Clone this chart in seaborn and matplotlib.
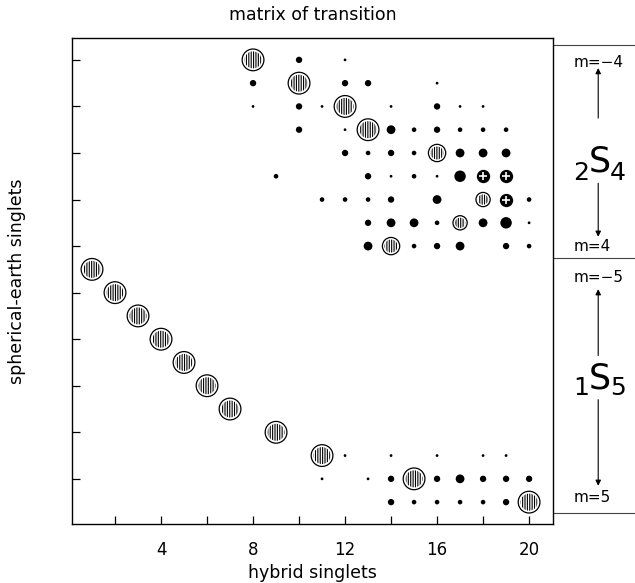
import numpy as np
import pandas as pd
import matplotlib
matplotlib.use("Agg")
import matplotlib.pyplot as plt
import seaborn as sns

# ---------------------------------------------------------------------------
# Data: hybrid singlet index (x) versus spherical-earth singlet row (y).
# Rows 1..11 are 1S5 (m = 5 at the bottom .. m = -5), rows 12..20 are 2S4
# (m = 4 .. m = -4 at the top).
# ---------------------------------------------------------------------------

# dominant correspondences (hatched circles); weight 3 = full, 2 = reduced, 1 = weak
dom_hybrid = [8, 10, 12, 13, 16, 18, 17, 14,
              1, 2, 3, 4, 5, 6, 7, 9, 11, 15, 20]
dom_spherical = [20, 19, 18, 17, 16, 14, 13, 12,
                 11, 10, 9, 8, 7, 6, 5, 4, 3, 2, 1]
dom_weight = [3, 3, 3, 3, 2, 1, 1, 2,
              3, 3, 3, 3, 3, 3, 3, 3, 3, 3, 3]

# strongly mixed cells (dark circles with a light cross)
mix_hybrid = [18, 19, 19]
mix_spherical = [15, 15, 14]

# secondary couplings, level 1 (faint) .. 5 (strong)
dot_hybrid = [
    10, 12,                              # row 20
    8, 12, 13, 16,                       # row 19
    8, 10, 11, 14, 16, 17, 18,           # row 18
    10, 12, 14, 15, 16, 17, 18, 19,      # row 17
    12, 13, 14, 15, 17, 18, 19,          # row 16
    9, 13, 14, 15, 16, 17,               # row 15
    11, 12, 13, 14, 16, 20,              # row 14
    13, 14, 15, 16, 18, 19, 20,          # row 13
    13, 15, 16, 17, 19, 20,              # row 12
    12, 14, 16, 18, 19,                  # row 3
    11, 13, 14, 16, 17, 18, 19, 20,      # row 2
    14, 15, 16, 17, 18, 19,              # row 1
]
dot_spherical = (
    [20] * 2 + [19] * 4 + [18] * 7 + [17] * 8 + [16] * 7 + [15] * 6
    + [14] * 6 + [13] * 7 + [12] * 6 + [3] * 5 + [2] * 8 + [1] * 6
)
dot_level = [
    3, 1,
    3, 3, 3, 1,
    1, 3, 1, 1, 3, 1, 1,
    3, 1, 4, 2, 3, 2, 2, 2,
    3, 2, 3, 2, 4, 4, 4,
    2, 3, 1, 2, 1, 5,
    2, 2, 2, 3, 4, 2,
    3, 4, 4, 2, 4, 5, 1,
    4, 2, 3, 4, 3, 2,
    1, 1, 1, 1, 1,
    1, 1, 3, 3, 4, 3, 3, 3,
    3, 2, 2, 2, 2, 3,
]

x_tick_values = [2, 4, 6, 8, 10, 12, 14, 16, 18, 20]
x_tick_text = ["", "4", "", "8", "", "12", "", "16", "", "20"]
y_tick_values = [2, 4, 6, 8, 10, 12, 14, 16, 18, 20]

# ---------------------------------------------------------------------------
sns.set_theme(style="white")
plt.rcParams["font.family"] = ["DejaVu Sans"]
plt.rcParams["text.color"] = "black"
plt.rcParams["axes.labelcolor"] = "black"
plt.rcParams["xtick.color"] = "black"
plt.rcParams["ytick.color"] = "black"
plt.rcParams["hatch.linewidth"] = 0.8
plt.rcParams["hatch.color"] = "black"

fig = plt.figure(figsize=(6.35, 5.83), dpi=100)
ax = fig.add_axes([72 / 635, 1 - 524 / 583, 481 / 635, 486 / 583])

dots = pd.DataFrame({"hybrid": dot_hybrid, "spherical": dot_spherical,
                     "level": dot_level})
dom = pd.DataFrame({"hybrid": dom_hybrid, "spherical": dom_spherical,
                    "weight": dom_weight})
mix = pd.DataFrame({"hybrid": mix_hybrid, "spherical": mix_spherical})

dot_sizes = {1: 4.0, 2: 11.0, 3: 21.0, 4: 40.0, 5: 68.0}
ring_sizes = {1: 105.0, 2: 155.0, 3: 245.0}
fill_sizes = {1: 55.0, 2: 88.0, 3: 150.0}

sns.scatterplot(data=dots, x="hybrid", y="spherical", size="level",
                sizes=dot_sizes, color="black", edgecolor="black",
                linewidth=0, legend=False, ax=ax, zorder=3)

sns.scatterplot(data=mix, x="hybrid", y="spherical", s=92, color="black",
                edgecolor="black", linewidth=0, legend=False, ax=ax, zorder=3)
sns.scatterplot(data=mix, x="hybrid", y="spherical", s=40, marker="+",
                color="white", linewidth=1.2, legend=False, ax=ax, zorder=4)

sns.scatterplot(data=dom, x="hybrid", y="spherical", size="weight",
                sizes=ring_sizes, color="black", facecolor="white",
                edgecolor="black", linewidth=0.9, legend=False, ax=ax,
                zorder=5)
sns.scatterplot(data=dom, x="hybrid", y="spherical", size="weight",
                sizes=fill_sizes, color="black", facecolor="white",
                edgecolor="black", linewidth=0, hatch="|" * 7, legend=False,
                ax=ax, zorder=6)

ax.set_xlim(0.13, 21.04)
ax.set_ylim(0.06, 20.94)

ax.set_xticks(x_tick_values)
ax.set_xticklabels(x_tick_text)
ax.set_yticks(y_tick_values)
ax.set_yticklabels([])
ax.tick_params(axis="both", direction="in", length=6, width=0.9,
               color="black", labelcolor="black", labelsize=12, pad=12,
               bottom=True, left=True, top=False, right=False)
for sp in ax.spines.values():
    sp.set_visible(True)
    sp.set_color("black")
    sp.set_linewidth(1.0)

ax.set_title("matrix of transition", fontsize=12.5, pad=13, color="black")
ax.set_xlabel("hybrid singlets", fontsize=12.5, va="top", color="black")
ax.xaxis.set_label_coords(0.5, -0.083)
ax.set_ylabel("spherical-earth singlets", fontsize=12.5, color="black")
ax.yaxis.set_label_coords(-0.095, 0.5)

# ---------------------------------------------------------------------------
# multiplet annotation column on the right
side = ax.get_yaxis_transform()
for yv in (20.64, 11.49, 0.53):
    ax.plot([1.0, 1.25], [yv, yv], transform=side, color="#444444",
            lw=0.8, clip_on=False)

m_font = dict(fontsize=11, ha="left", va="center", transform=side,
              color="black")
ax.text(1.042, 19.9, "m=\u22124", **m_font)
ax.text(1.042, 12.0, "m=4", **m_font)
ax.text(1.042, 10.63, "m=\u22125", **m_font)
ax.text(1.042, 1.2, "m=5", **m_font)

arrow = dict(arrowstyle="-|>", lw=0.8, color="black", mutation_scale=8,
             shrinkA=0, shrinkB=0)
x_arr = 1.094
for tail, tip in ((17.5, 19.65), (14.7, 12.4), (7.3, 10.15), (5.4, 1.7)):
    ax.annotate("", xy=(x_arr, tip), xytext=(x_arr, tail), xycoords=side,
                textcoords=side, arrowprops=arrow)

x_s = 1.097
for sub_l, sub_r, y_s, y_sub in (("2", "4", 15.22, 14.84),
                                 ("1", "5", 5.90, 5.60)):
    ax.text(x_s, y_s, "S", fontsize=25, ha="center", va="baseline",
            transform=side, color="black")
    ax.text(x_s - 0.022, y_sub, sub_l, fontsize=18, ha="right",
            va="baseline", transform=side, color="black")
    ax.text(x_s + 0.022, y_sub, sub_r, fontsize=18, ha="left",
            va="baseline", transform=side, color="black")

fig.savefig("out.png", dpi=100)
